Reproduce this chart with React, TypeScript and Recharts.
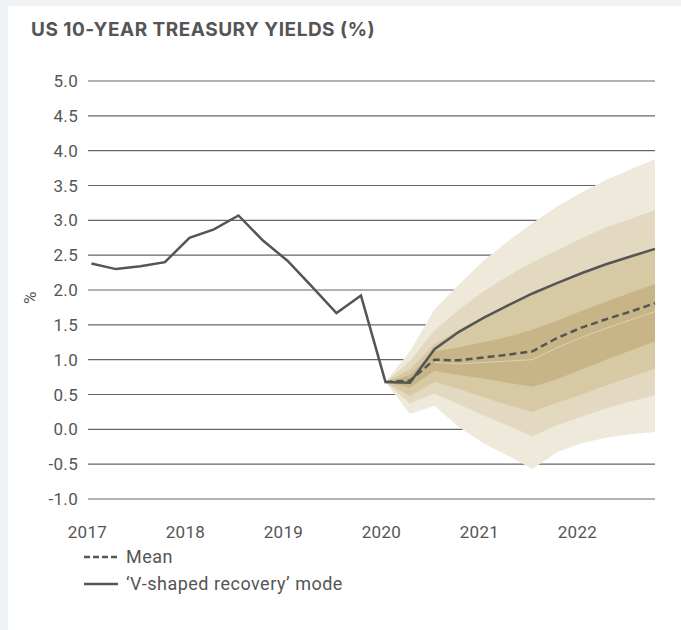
import React from "react";
import { ComposedChart, Area, Line, XAxis, YAxis, CartesianGrid } from "recharts";

// quarterly points, Q1 2017 .. Q4 2022
const quarters = [
  "2017Q1", "2017Q2", "2017Q3", "2017Q4",
  "2018Q1", "2018Q2", "2018Q3", "2018Q4",
  "2019Q1", "2019Q2", "2019Q3", "2019Q4",
  "2020Q1", "2020Q2", "2020Q3", "2020Q4",
  "2021Q1", "2021Q2", "2021Q3", "2021Q4",
  "2022Q1", "2022Q2", "2022Q3", "2022Q4",
];
const yearTicks = [0, 4, 8, 12, 16, 20];
const yearLabels = ["2017", "2018", "2019", "2020", "2021", "2022"];
const yTicks = [-1, -0.5, 0, 0.5, 1, 1.5, 2, 2.5, 3, 3.5, 4, 4.5, 5];

// history + 'V-shaped recovery' mode
const vShaped = [
  2.38, 2.3, 2.34, 2.4, 2.75, 2.87, 3.07, 2.71, 2.42, 2.05, 1.67, 1.92,
  0.68, 0.67, 1.15, 1.4, 1.6, 1.78, 1.95, 2.1, 2.24, 2.37, 2.48, 2.59,
];
const N = null;
const mean = [
  N, N, N, N, N, N, N, N, N, N, N, N,
  0.68, 0.7, 1.0, 0.99, 1.03, 1.07, 1.12, 1.31, 1.46, 1.58, 1.69, 1.81,
];
const median = [
  N, N, N, N, N, N, N, N, N, N, N, N,
  N, N, 0.96, 0.94, 0.96, 0.98, 1.0, 1.17, 1.32, 1.45, 1.57, 1.69,
];

// fan bands, from outer to inner
const outerLow = [N, N, N, N, N, N, N, N, N, N, N, N, 0.68, 0.22, 0.34, 0.03, -0.2, -0.38, -0.57, -0.33, -0.2, -0.12, -0.07, -0.04];
const outerHigh = [N, N, N, N, N, N, N, N, N, N, N, N, 0.68, 1.12, 1.72, 2.08, 2.42, 2.7, 2.96, 3.2, 3.4, 3.58, 3.73, 3.88];
const midLow = [N, N, N, N, N, N, N, N, N, N, N, N, 0.68, 0.37, 0.51, 0.36, 0.2, 0.05, -0.1, 0.06, 0.18, 0.3, 0.4, 0.49];
const midHigh = [N, N, N, N, N, N, N, N, N, N, N, N, 0.68, 0.98, 1.42, 1.72, 1.98, 2.2, 2.4, 2.57, 2.74, 2.9, 3.02, 3.15];
const innerLow = [N, N, N, N, N, N, N, N, N, N, N, N, 0.68, 0.48, 0.68, 0.58, 0.46, 0.35, 0.25, 0.38, 0.5, 0.63, 0.75, 0.87];
const innerHigh = [N, N, N, N, N, N, N, N, N, N, N, N, 0.68, 0.86, 1.22, 1.43, 1.61, 1.77, 1.93, 2.08, 2.22, 2.35, 2.47, 2.59];
const coreLow = [N, N, N, N, N, N, N, N, N, N, N, N, 0.68, 0.6, 0.84, 0.78, 0.73, 0.67, 0.61, 0.72, 0.86, 1.0, 1.13, 1.26];
const coreHigh = [N, N, N, N, N, N, N, N, N, N, N, N, 0.68, 0.78, 1.12, 1.18, 1.25, 1.33, 1.43, 1.56, 1.7, 1.83, 1.96, 2.09];

const pair = (lo: (number | null)[], hi: (number | null)[], i: number) =>
  lo[i] == null || hi[i] == null ? null : [lo[i], hi[i]];

const data = quarters.map((q, i) => ({
  q,
  idx: i,
  vShaped: vShaped[i],
  mean: mean[i],
  median: median[i],
  outer: pair(outerLow, outerHigh, i),
  mid: pair(midLow, midHigh, i),
  inner: pair(innerLow, innerHigh, i),
  core: pair(coreLow, coreHigh, i),
}));

const TEXT = "#555555";
const LINE = "#555555";

export default function App() {
  return (
    <div
      style={{
        position: "fixed",
        left: 0,
        top: 0,
        width: 681,
        height: 630,
        background: "#eff3f6",
        fontFamily: "Roboto, sans-serif",
        overflow: "hidden",
      }}
    >
      <div style={{ position: "absolute", left: 8, top: 6, right: 0, bottom: 0, background: "#ffffff" }} />
      <div
        style={{
          position: "absolute",
          left: 31,
          top: 19,
          fontFamily: "Inter, sans-serif",
          fontWeight: 700,
          fontSize: 19,
          lineHeight: "22px",
          letterSpacing: 0.5,
          color: TEXT,
          whiteSpace: "nowrap",
        }}
      >
        US 10-YEAR TREASURY YIELDS (%)
      </div>

      <div style={{ position: "absolute", left: 0, top: 0 }}>
        <ComposedChart
          width={681}
          height={630}
          data={data}
          margin={{ top: 81, right: 26, bottom: 101, left: 8 }}
        >
          <CartesianGrid vertical={false} stroke="#666666" strokeWidth={1.1} />
          <XAxis
            dataKey="idx"
            type="number"
            domain={[-0.14, 23]}
            ticks={yearTicks}
            interval={0}
            height={30}
            axisLine={false}
            tickLine={false}
            tickMargin={21}
            tick={{ fontSize: 17, fill: TEXT, dx: -4, letterSpacing: 0.3 }}
            tickFormatter={(v: number) => yearLabels[yearTicks.indexOf(v)]}
          />
          <YAxis
            type="number"
            domain={[-1, 5]}
            ticks={yTicks}
            interval={0}
            width={80}
            axisLine={false}
            tickLine={false}
            tickMargin={4}
            tick={{ fontSize: 17, fill: TEXT, letterSpacing: 0.3 }}
            tickFormatter={(v: number) => v.toFixed(1)}
            label={{
              value: "%",
              angle: -90,
              position: "insideLeft",
              offset: 22,
              dy: 14,
              style: { fontSize: 17, fill: TEXT },
            }}
          />

          <Area type="linear" dataKey="outer" stroke="none" fill="#efe9dc" fillOpacity={1} isAnimationActive={false} />
          <Area type="linear" dataKey="mid" stroke="none" fill="#e3d9c1" fillOpacity={1} isAnimationActive={false} />
          <Area type="linear" dataKey="inner" stroke="none" fill="#d6c9a4" fillOpacity={1} isAnimationActive={false} />
          <Area type="linear" dataKey="core" stroke="none" fill="#c7b587" fillOpacity={1} isAnimationActive={false} />

          <Line type="linear" dataKey="median" stroke="#e6dcc2" strokeWidth={0.7} dot={false} isAnimationActive={false} />
          <Line
            type="linear"
            dataKey="mean"
            stroke={LINE}
            strokeWidth={2.5}
            strokeDasharray="7 4"
            dot={false}
            isAnimationActive={false}
          />
          <Line type="linear" dataKey="vShaped" stroke={LINE} strokeWidth={2.5} dot={false} isAnimationActive={false} />
        </ComposedChart>
      </div>

      {/* legend */}
      <div
        style={{
          position: "absolute",
          left: 84,
          top: 546,
          color: TEXT,
          fontSize: 18,
          letterSpacing: 0.5,
          lineHeight: "22px",
        }}
      >
        <div style={{ display: "flex", alignItems: "center", height: 22 }}>
          <svg width={34} height={4} style={{ marginRight: 8 }}>
            <line x1={0} y1={2} x2={34} y2={2} stroke={LINE} strokeWidth={2.5} strokeDasharray="6 3" />
          </svg>
          <span>Mean</span>
        </div>
        <div style={{ display: "flex", alignItems: "center", height: 22, marginTop: 5 }}>
          <svg width={34} height={4} style={{ marginRight: 8 }}>
            <line x1={0} y1={2} x2={34} y2={2} stroke={LINE} strokeWidth={2.5} />
          </svg>
          <span>‘V-shaped recovery’ mode</span>
        </div>
      </div>
    </div>
  );
}
